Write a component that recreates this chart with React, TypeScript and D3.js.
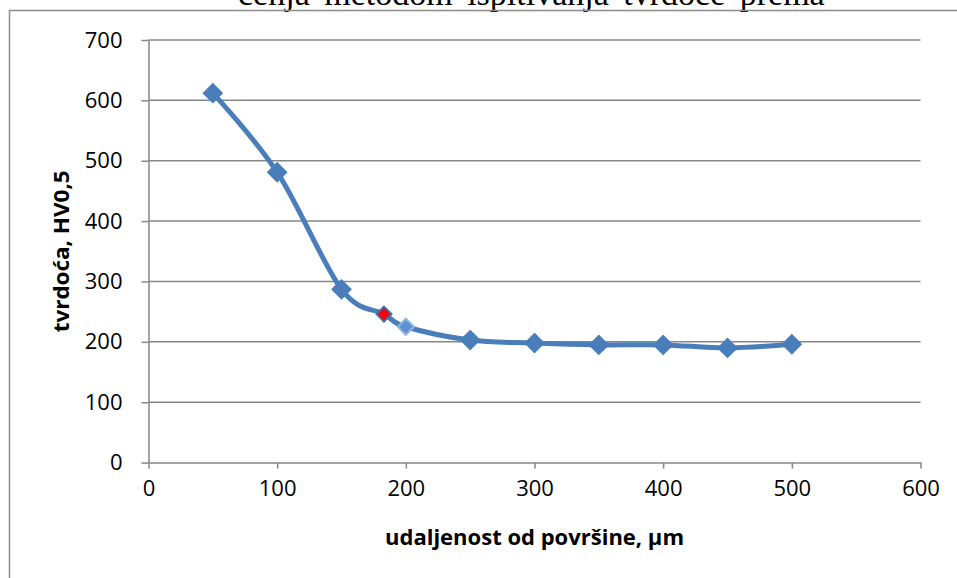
import * as d3 from 'd3';
import React, { useEffect, useRef } from 'react';

// distance from surface (µm) and hardness (HV0,5)
const distances = [50, 100, 150, 183, 200, 250, 300, 350, 400, 450, 500];
const hardness = [612, 481, 287, 246, 225, 203, 198, 195, 195, 190, 196];
// per-point marker style: 0 = normal, 1 = red highlight, 2 = light
const markerKinds = [0, 0, 0, 1, 2, 0, 0, 0, 0, 0, 0];

const xTicks = [0, 100, 200, 300, 400, 500, 600];
const yTicks = [0, 100, 200, 300, 400, 500, 600, 700];

const xTitle = 'udaljenost od površine, µm';
const yTitle = 'tvrdoća, HV0,5';
const topText = 'ćenja metodom ispitivanja tvrdoće prema';

const App: React.FC = () => {
    const ref = useRef<SVGSVGElement | null>(null);

    useEffect(() => {
        const width = 957, height = 578;
        const left = 148.5, right = 920.5, top = 40, bottom = 462.6;
        const font = "'Open Sans', 'Noto Sans', sans-serif";
        const grey = '#868686';

        const svg = d3.select(ref.current)
            .attr('width', width)
            .attr('height', height)
            .html('');

        const x = d3.scaleLinear().domain([0, 600]).range([left, right]);
        const y = d3.scaleLinear().domain([0, 700]).range([bottom, top]);

        // page text above the chart, clipped by the top of the picture
        svg.append('text')
            .attr('x', 238)
            .attr('y', 5)
            .attr('font-family', "'Liberation Serif', serif")
            .attr('font-size', 34)
            .attr('word-spacing', 6)
            .attr('fill', '#000')
            .text(topText);

        // chart frame
        svg.append('path')
            .attr('d', `M9.5,${height}V10.5H${width}`)
            .attr('fill', 'none')
            .attr('stroke', '#8c8c8c')
            .attr('stroke-width', 1.5);

        // gridlines
        svg.append('g')
            .selectAll('line')
            .data(yTicks.filter(t => t > 0))
            .join('line')
            .attr('x1', left)
            .attr('x2', right)
            .attr('y1', d => y(d))
            .attr('y2', d => y(d))
            .attr('stroke', grey)
            .attr('stroke-width', 1.5);

        // y axis
        const yAxis = svg.append('g')
            .attr('transform', `translate(${left},0)`)
            .call(d3.axisLeft(y).tickValues(yTicks).tickSize(7).tickPadding(19).tickSizeOuter(0));
        yAxis.select('.domain').attr('stroke', grey).attr('stroke-width', 1.5);
        yAxis.selectAll('.tick line').attr('stroke', grey).attr('stroke-width', 1.5);
        yAxis.selectAll('.tick text')
            .attr('font-family', font)
            .attr('font-size', 22)
            .attr('fill', '#000');

        // x axis
        const xAxis = svg.append('g')
            .attr('transform', `translate(0,${bottom})`)
            .call(d3.axisBottom(x).tickValues(xTicks).tickSize(6).tickPadding(12).tickSizeOuter(0));
        xAxis.select('.domain').attr('stroke', grey).attr('stroke-width', 1.5);
        xAxis.selectAll('.tick line').attr('stroke', grey).attr('stroke-width', 1.5);
        xAxis.selectAll('.tick text')
            .attr('font-family', font)
            .attr('font-size', 22)
            .attr('fill', '#000');

        // axis titles
        svg.append('text')
            .attr('x', (left + right) / 2)
            .attr('y', 545)
            .attr('text-anchor', 'middle')
            .attr('font-family', font)
            .attr('font-weight', 'bold')
            .attr('font-size', 21)
            .attr('textLength', 299)
            .attr('lengthAdjust', 'spacingAndGlyphs')
            .text(xTitle);

        svg.append('text')
            .attr('transform', `translate(69,${(top + bottom) / 2}) rotate(-90)`)
            .attr('text-anchor', 'middle')
            .attr('font-family', font)
            .attr('font-weight', 'bold')
            .attr('font-size', 21)
            .attr('textLength', 162)
            .attr('lengthAdjust', 'spacingAndGlyphs')
            .text(yTitle);

        // smoothed line
        const points = distances.map((d, i) => [d, hardness[i]] as [number, number]);
        const line = d3.line<[number, number]>()
            .curve(d3.curveCardinal.tension(0))
            .x(d => x(d[0]))
            .y(d => y(d[1]));

        svg.append('path')
            .datum(points)
            .attr('fill', 'none')
            .attr('stroke', '#4a7ebb')
            .attr('stroke-width', 5)
            .attr('stroke-linejoin', 'round')
            .attr('d', line);

        // diamond markers
        const fills = ['#4a7ebb', '#ff0000', '#5b8fd6'];
        const strokes = ['#4a7ebb', '#3d6fb0', '#8eb4e3'];
        const sizes = [9, 7.5, 8];
        svg.append('g')
            .selectAll('path')
            .data(points)
            .join('path')
            .attr('transform', d => `translate(${x(d[0])},${y(d[1])})`)
            .attr('d', (_, i) => {
                const r = sizes[markerKinds[i]];
                return `M0,${-r}L${r},0L0,${r}L${-r},0Z`;
            })
            .attr('fill', (_, i) => fills[markerKinds[i]])
            .attr('stroke', (_, i) => strokes[markerKinds[i]])
            .attr('stroke-width', 2);
    }, []);

    return <svg ref={ref} style={{ position: 'absolute', left: 0, top: 0 }}></svg>;
};

export default App;
